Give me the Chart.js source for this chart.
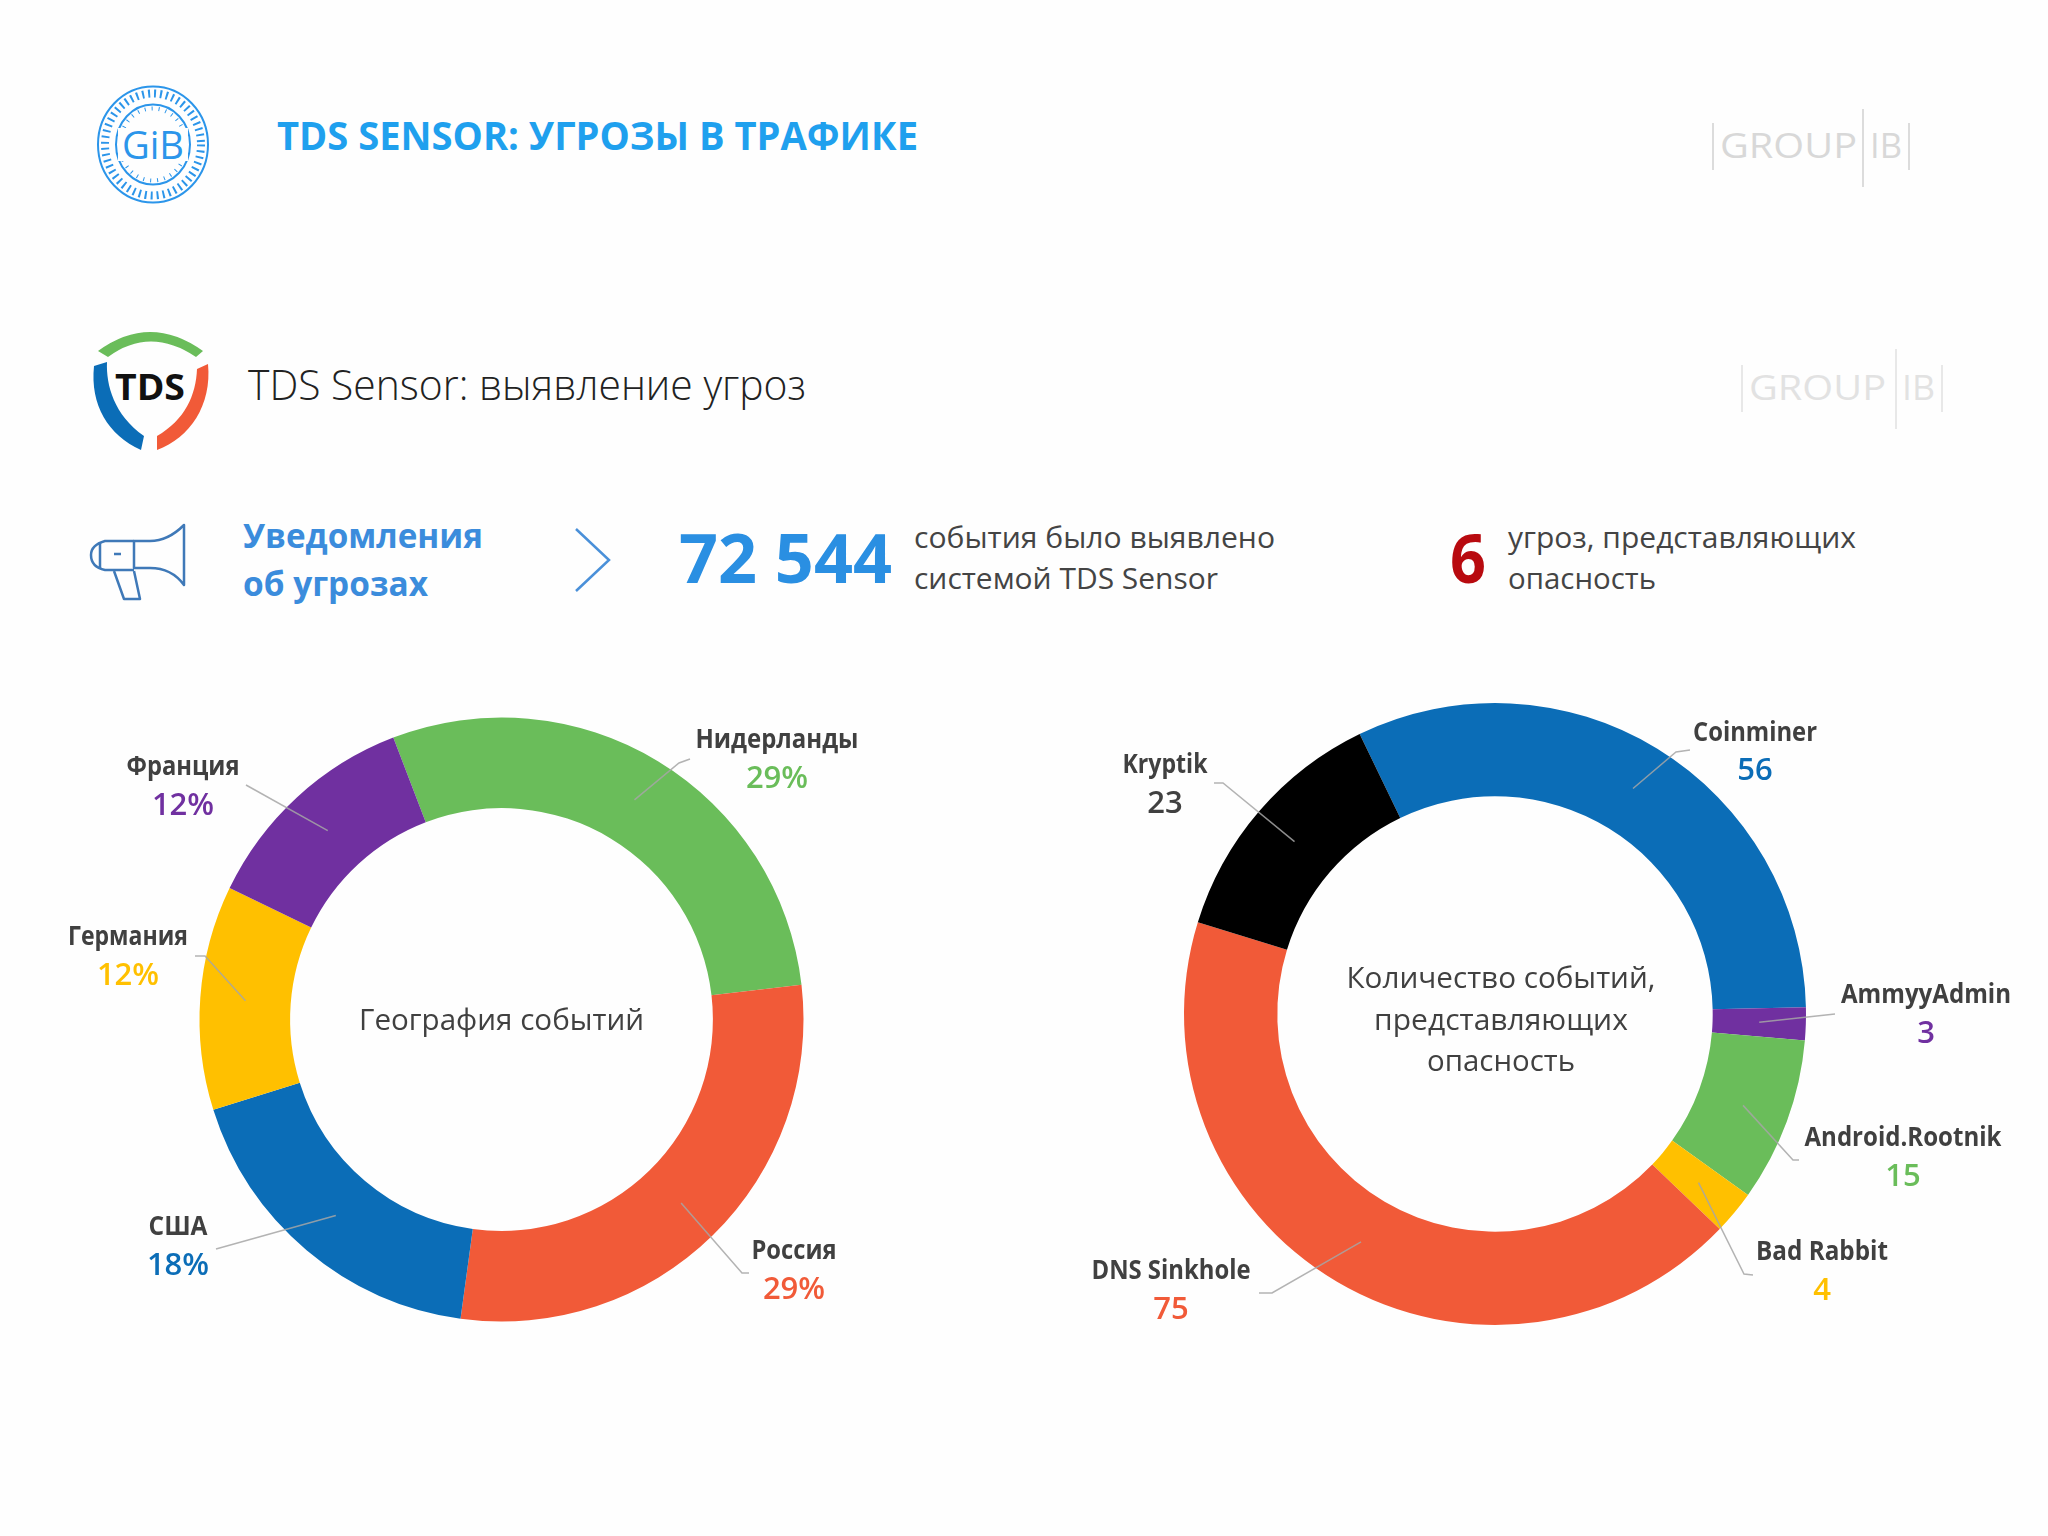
<!DOCTYPE html>
<html lang="ru">
<head>
<meta charset="utf-8">
<title>TDS Sensor: угрозы в трафике</title>
<script src="https://cdn.jsdelivr.net/npm/chart.js@4"></script>
<style>
  html, body { margin: 0; padding: 0; background: #fefefe; }
  #page { position: relative; width: 2048px; height: 1536px; overflow: hidden; }
  canvas, svg { position: absolute; left: 0; top: 0; }
  svg text { font-family: "Open Sans", sans-serif; dominant-baseline: central; }
</style>
</head>
<body>
<div id="page">
  <svg width="2048" height="1536" viewBox="0 0 2048 1536">
    <!-- GIB stamp -->
    <g fill="none" stroke="#2b95ea">
      <ellipse cx="153" cy="144.5" rx="55" ry="58" stroke-width="2"/>
      <ellipse cx="153" cy="144.5" rx="48" ry="51" stroke-width="8" stroke-dasharray="2 4"/>
      <ellipse cx="153" cy="144.5" rx="37" ry="40" stroke-width="2"/>
      <ellipse cx="153" cy="144.5" rx="33" ry="36" stroke-width="4" stroke-dasharray="1 6"/>
    </g>
    <rect x="118" y="128" width="70" height="33" fill="#fefefe"/>
    <text x="153" y="144" text-anchor="middle" font-size="38" fill="#2b95ea" textLength="62" lengthAdjust="spacingAndGlyphs">GiB</text>

    <text x="277" y="134.5" font-size="39" font-weight="700" fill="#1fa0ee" textLength="641" lengthAdjust="spacingAndGlyphs">TDS SENSOR: УГРОЗЫ В ТРАФИКЕ</text>

    <!-- GROUP|IB watermarks -->
    <g fill="none" stroke="#dcdcdc" stroke-width="2">
      <path d="M1713 123V170M1863 109V187M1909 123V170"/>
    </g>
    <text x="1720" y="145" font-size="34" fill="#d8d8d8" textLength="137" lengthAdjust="spacingAndGlyphs">GROUP</text>
    <text x="1870" y="145" font-size="34" fill="#d8d8d8" textLength="32" lengthAdjust="spacingAndGlyphs">IB</text>
    <g fill="none" stroke="#e8e8e8" stroke-width="2">
      <path d="M1742 365V412M1896 349V429M1942 365V412"/>
    </g>
    <text x="1749" y="387" font-size="34" fill="#e2e2e2" textLength="137" lengthAdjust="spacingAndGlyphs">GROUP</text>
    <text x="1902" y="387" font-size="34" fill="#e2e2e2" textLength="33" lengthAdjust="spacingAndGlyphs">IB</text>

    <!-- TDS shield -->
    <path d="M98 351Q150 313 203 351L196 357Q150 326 108 357Z" fill="#6abd5a"/>
    <path d="M94 366L107 362C106 385 114 415 144 436L141 450C108 435 90 405 94 366Z" fill="#0b6db7"/>
    <path d="M208 364L197 369C196 395 185 420 157 436L157 450C190 438 212 405 208 364Z" fill="#f15a38"/>
    <text x="150" y="386" text-anchor="middle" font-size="35" font-weight="700" fill="#111" textLength="70" lengthAdjust="spacingAndGlyphs">TDS</text>

    <text x="248" y="383" font-size="42" font-weight="300" fill="#222" textLength="558" lengthAdjust="spacingAndGlyphs">TDS Sensor: выявление угроз</text>

    <!-- megaphone and chevron -->
    <g fill="none" stroke="#3f79b8" stroke-width="2.5" stroke-linejoin="round">
      <path d="M134 541H150C162 541 174 535 184 525V585C176 574 164 568 150 568H134Z"/>
      <path d="M134 541H105Q91 545 91 555Q91 567 105 570H134"/>
      <path d="M100 542V569M114 554H121"/>
      <path d="M114 571L124 599H140L134 571"/>
    </g>
    <path d="M576 529L609 560L576 591" fill="none" stroke="#4a90d9" stroke-width="2.5"/>

    <text x="243" y="534.5" font-size="34" font-weight="700" fill="#3b8cdc" textLength="240" lengthAdjust="spacingAndGlyphs">Уведомления</text>
    <text x="243" y="582.5" font-size="34" font-weight="700" fill="#3b8cdc" textLength="185" lengthAdjust="spacingAndGlyphs">об угрозах</text>

    <text x="679" y="556.5" font-size="68" font-weight="700" fill="#2a8fe2" textLength="213" lengthAdjust="spacingAndGlyphs">72 544</text>
    <text x="914" y="536.5" font-size="30" fill="#444" textLength="361" lengthAdjust="spacingAndGlyphs">события было выявлено</text>
    <text x="914" y="577" font-size="30" fill="#444" textLength="304" lengthAdjust="spacingAndGlyphs">системой TDS Sensor</text>

    <text x="1450" y="556.5" font-size="68" font-weight="700" fill="#b80a0f" textLength="36" lengthAdjust="spacingAndGlyphs">6</text>
    <text x="1508" y="536.5" font-size="30" fill="#444" textLength="348" lengthAdjust="spacingAndGlyphs">угроз, представляющих</text>
    <text x="1508" y="577" font-size="30" fill="#444" textLength="148" lengthAdjust="spacingAndGlyphs">опасность</text>
  </svg>
  <canvas id="geoChart" width="2048" height="1536"></canvas>
  <canvas id="threatChart" width="2048" height="1536"></canvas>
</div>

<script>
const geoLabels = ['Нидерланды', 'Россия', 'США', 'Германия', 'Франция'];
const geoValues = [29, 29, 18, 12, 12];
const geoColors = ['#6abd5a', '#f15a38', '#0b6db7', '#ffc000', '#7030a0'];

const threatLabels = ['Coinminer', 'AmmyyAdmin', 'Android.Rootnik', 'Bad Rabbit', 'DNS Sinkhole', 'Kryptik'];
const threatValues = [56, 3, 15, 4, 75, 23];
const threatColors = ['#0b6db7', '#7030a0', '#6abd5a', '#ffc000', '#f15a38', '#000000'];

// callout placement, page pixels, same order as the labels
const geoCallouts = [
  { x: 777, nameY: 740.5, valueY: 779.5, nameW: 163, elbow: [[679, 763], [690, 759]] },
  { x: 794, nameY: 1251.5, valueY: 1290.5, nameW: 85, elbow: [[742, 1273], [749, 1273]] },
  { x: 178, nameY: 1227.5, valueY: 1266.5, nameW: 59, elbow: [[216, 1249]] },
  { x: 128, nameY: 937.5, valueY: 976.5, nameW: 120, elbow: [[205, 956], [195, 956]] },
  { x: 183, nameY: 767.5, valueY: 806.5, nameW: 113, elbow: [[246, 785]] }
];
const threatCallouts = [
  { x: 1755, nameY: 733.5, valueY: 771.5, nameW: 124, elbow: [[1676, 752], [1690, 750]] },
  { x: 1926, nameY: 995.5, valueY: 1034.5, nameW: 170, elbow: [[1835, 1014]] },
  { x: 1903, nameY: 1138.5, valueY: 1177.5, nameW: 197, elbow: [[1793, 1160], [1799, 1160]] },
  { x: 1822, nameY: 1252.5, valueY: 1291.5, nameW: 132, elbow: [[1744, 1274], [1753, 1275]] },
  { x: 1171, nameY: 1271.5, valueY: 1310.5, nameW: 159, elbow: [[1272, 1293], [1259, 1293]] },
  { x: 1165, nameY: 765.5, valueY: 804.5, nameW: 85, elbow: [[1223, 783], [1214, 783]] }
];

const geoCenter = [{ text: 'География событий', y: 1021, w: 285 }];
const threatCenter = [
  { text: 'Количество событий,', y: 979, w: 309 },
  { text: 'представляющих', y: 1021, w: 257 },
  { text: 'опасность', y: 1062, w: 148 }
];

function calloutPlugin(labels, values, colors, callouts, centerLines, centerX, fmt) {
  return {
    id: 'callouts',
    afterDatasetsDraw(chart) {
      const ctx = chart.ctx;
      const arcs = chart.getDatasetMeta(0).data;
      ctx.save();
      ctx.textAlign = 'center';
      ctx.textBaseline = 'middle';
      callouts.forEach((c, i) => {
        const from = arcs[i].tooltipPosition();
        ctx.beginPath();
        ctx.moveTo(from.x, from.y);
        c.elbow.forEach(p => ctx.lineTo(p[0], p[1]));
        ctx.strokeStyle = 'rgba(166,166,166,0.85)';
        ctx.lineWidth = 1.5;
        ctx.stroke();

        ctx.font = '700 26px "Open Sans", sans-serif';
        ctx.fillStyle = '#404040';
        ctx.fillText(labels[i], c.x, c.nameY, c.nameW);
        ctx.font = '600 31px "Open Sans", sans-serif';
        ctx.fillStyle = colors[i] === '#000000' ? '#404040' : colors[i];
        ctx.fillText(fmt(values[i]), c.x, c.valueY);
      });
      ctx.font = '30px "Open Sans", sans-serif';
      ctx.fillStyle = '#404040';
      centerLines.forEach(l => ctx.fillText(l.text, centerX, l.y, l.w));
      ctx.restore();
    }
  };
}

function drawDonut(id, labels, values, colors, rotation, padding, plugin) {
  return new Chart(document.getElementById(id), {
    type: 'doughnut',
    data: {
      labels,
      datasets: [{ data: values, backgroundColor: colors, borderWidth: 0 }]
    },
    options: {
      responsive: false,
      animation: false,
      devicePixelRatio: 1,
      rotation,
      cutout: '70%',
      layout: { padding },
      plugins: { legend: { display: false }, tooltip: { enabled: false } }
    },
    plugins: [plugin]
  });
}

drawDonut('geoChart', geoLabels, geoValues, geoColors, -21,
  { left: 199.5, right: 1244.5, top: 717.5, bottom: 214.5 },
  calloutPlugin(geoLabels, geoValues, geoColors, geoCallouts, geoCenter, 501.5, v => v + '%'));

drawDonut('threatChart', threatLabels, threatValues, threatColors, -25.8,
  { left: 1184, right: 242, top: 703, bottom: 211 },
  calloutPlugin(threatLabels, threatValues, threatColors, threatCallouts, threatCenter, 1501, v => String(v)));
</script>
</body>
</html>
